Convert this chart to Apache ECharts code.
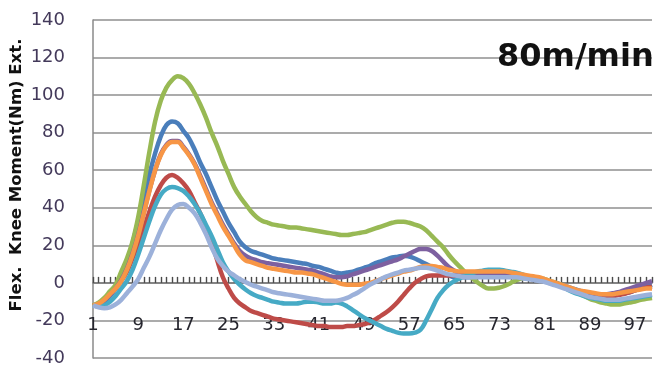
<!DOCTYPE html>
<html>
<head>
<meta charset="utf-8">
<script src="https://cdn.jsdelivr.net/npm/echarts@6/dist/echarts.min.js"></script>
<style>
  html, body { margin: 0; padding: 0; background: #ffffff; }
  #chart { width: 669px; height: 367px; }
</style>
</head>
<body>
<div id="chart"></div>
<script>
// Gait-cycle sample index (1..100)
const categories = Array.from({ length: 100 }, (_, k) => String(k + 1));

// Knee flexion/extension moment (Nm), one curve per subject
const blue = [-12,-12,-10,-7,-3,3,11,21,33,46, 58,69,78,84,86,85,81,77,71,64,
  58,51,44,38,32,27,22,19,17,16, 15,14,13,12.5,12,11.5,11,10.5,10,9,
  8.5,7.5,6.5,5.5,5,5.5,6,7,8,9, 10.5,11.5,12.5,13.5,14,14.5,14,13,11.5,10,
  8.5,7,5,4,3,3,3,3,3.5,4, 4.5,5,5,5,4.5,4,3.5,3,2.5,2,
  1.5,0.5,0,-1,-2,-3,-4,-5,-5.5,-6, -6.5,-6.5,-6.5,-6,-5.5,-5,-4,-3,-2,-1];

const red = [-12,-11,-9,-6,-3,1,6,13,21,29, 38,46,52,56,57.5,56,53,49,43,37,
  30,22,12,3,-3,-8,-11,-13,-15,-16, -17,-18,-19,-19.5,-20,-20.5,-21,-21.5,-22,-22.5,
  -23,-23,-23.5,-23.5,-23.5,-23,-23,-22.5,-22,-21, -19.5,-17.5,-15.5,-13,-10,-6.5,-3,0,2,3.5,
  4,4,4,4,4,4,4,4,4,4, 4,4.5,4.5,4.5,4,4,3.5,3,2.5,2,
  1,0,-1,-2,-3,-4,-5,-5.5,-6,-6.5, -7,-7,-7,-6.5,-6,-5,-4,-3,-2.5,-2];

const green = [-12,-10.5,-8,-4.5,-1,6,13,22,35,52, 70,86,97,104,108,110,109,106,101,95,
  88,80,73,65,58,51,46,42,38,35, 33,32,31,30.5,30,29.5,29.5,29,28.5,28,
  27.5,27,26.5,26,25.5,25.5,26,26.5,27,28, 29,30,31,32,32.5,32.5,32,31,30,28,
  25,22,19,15,11.5,8.5,5.5,3,0.5,-1.5, -3,-3,-2.5,-1.5,0,1.5,2.5,3,3,2.5,
  2,1,0,-1,-2.5,-4,-5.5,-7,-8.5,-9.5, -10.5,-11,-11.5,-11.5,-11,-10.5,-10,-9,-8.5,-8];

const purple = [-12,-11.5,-9.5,-6.5,-3,1.5,7.5,15.5,25.5,37.5, 49.5,60,68.5,73.5,75.5,75.5,72.5,68.5,63.5,57,
  50,43,37,31,26,21,17,14.5,13,12, 11,10.5,10,9.5,9,8.5,8,7.5,7,6.5,
  5.5,4.5,3.5,3,3,3.5,4.5,5.5,6.5,7.5, 8.5,9.5,10.5,11.5,12.5,14,15.5,17,18,18,
  17,14.5,11.5,8.5,6.5,5,4.5,4,4,4, 4,4.5,4.5,4.5,4,4,3.5,3,2.5,2,
  1.5,0.5,-0.5,-1.5,-2.5,-3.5,-4.5,-5,-5.5,-6, -6,-6,-5.5,-5,-4,-3,-2,-1,0,1];

const teal = [-12,-12.5,-12,-10,-7,-3,1,7,15,24, 33,41,47,50,51,50.5,49,46,42,37,
  31,25,18,11,6,2,-1,-3.5,-5.5,-7, -8,-9,-10,-10.5,-11,-11,-11,-10.5,-10,-10,
  -10.5,-11,-11,-10.5,-11,-12.5,-14.5,-16.5,-18.5,-20, -21.5,-23,-24.5,-25.5,-26.5,-27,-27,-26.5,-25,-20,
  -14,-8,-4,-1,1,2.5,4,5,6,6.5, 7,7,7,6.5,6,5.5,4.5,3.5,3,2,
  1,0,-1,-2,-3.5,-5,-6,-7,-8,-8.5, -9,-9.5,-9.5,-9.5,-9,-8.5,-8,-7.5,-7,-6.5];

const orange = [-12,-11,-9,-6,-3,1,7,15,25,37, 49,60,68,73,75,75,72,68,63,56,
  49,42,36,30,25,20,15,12,11,10, 9,8,7.5,7,6.5,6,5.5,5.5,5,4.5,
  3.5,2.5,1.5,0.5,-0.5,-1,-1,-1,-0.5,0, 1,2,3,4,5,6,6.5,7.5,8.5,9,
  9,8.5,8,7,6.5,6,6,6,6,6, 6,6,6,6,5.5,5,4.5,4,3.5,3,
  2,1,0,-1,-2,-3,-4,-4.5,-5,-5.5, -6,-6,-6,-5.5,-5,-4.5,-4,-3.5,-3,-3];

const lightBlue = [-12,-13,-13.5,-13,-11.5,-9,-5.5,-2,2,8, 14,21,28,34,39,41.5,42,40,37,32,
  26,19,13,9,6,4,2,0.5,-1,-2, -3,-4,-5,-5.5,-6,-6.5,-7,-7.5,-8,-8.5,
  -9,-9.5,-9.5,-9.5,-9,-8,-6.5,-5,-3,-1, 0.5,2,3.5,4.5,5.5,6.5,7,7.5,8,8,
  7.5,6.5,5.5,4.5,4,3.5,3,3,3,3, 3,3,3,3,3,3,2.5,2,1.5,1,
  0.5,-0.5,-1.5,-2.5,-3.5,-4.5,-5.5,-6.5,-7.5,-8, -8.5,-9,-9,-9,-8.5,-8,-7.5,-7,-6.5,-6];

// Value axis range and tick step
const yMin = -40, yMax = 140, yStep = 20;

const curves = [
  { data: blue, color: '#4A7EBB' },
  { data: red, color: '#BE4B48' },
  { data: green, color: '#98B954' },
  { data: purple, color: '#7D60A0' },
  { data: teal, color: '#46AAC5' },
  { data: orange, color: '#F79646' },
  { data: lightBlue, color: '#9CB1DA' }
];

const chart = echarts.init(document.getElementById('chart'), null, { renderer: 'canvas' });

chart.setOption({
  animation: false,
  backgroundColor: '#ffffff',
  grid: { left: 93, right: 17, top: 20, bottom: 9, containLabel: false, outerBoundsMode: 'none' },
  xAxis: [
    {
      // crossing axis at zero: line plus a tick on every sample, above the curves
      type: 'category',
      data: categories,
      boundaryGap: false,
      z: 3,
      axisLine: { onZero: true, lineStyle: { color: '#7a7a7a', width: 1.5 } },
      axisTick: { show: true, interval: 0, inside: true, length: 6, lineStyle: { color: '#4a4a4a', width: 1.4 } },
      axisLabel: { show: false, interval: 0 },
      splitLine: { show: false }
    },
    {
      // sample labels, set low in the plot
      type: 'category',
      data: categories,
      boundaryGap: false,
      position: 'bottom',
      offset: -44,
      axisLine: { show: false, onZero: false },
      axisTick: { show: false },
      axisLabel: {
        show: true,
        interval: 7,
        margin: 2,
        hideOverlap: false,
        fontFamily: 'DejaVu Sans',
        fontSize: 18,
        color: '#26262e'
      },
      splitLine: { show: false }
    }
  ],
  yAxis: {
    type: 'value',
    min: yMin,
    max: yMax,
    interval: yStep,
    axisLine: { show: true, lineStyle: { color: '#8a8a8a', width: 1.5 } },
    axisTick: { show: false },
    axisLabel: {
      margin: 28,
      fontFamily: 'DejaVu Sans',
      fontSize: 18,
      color: '#43395a'
    },
    splitLine: { show: true, lineStyle: { color: '#8f8f8f', width: 1.5 } }
  },
  graphic: [
    {
      type: 'text',
      x: 17,
      y: 175,
      rotation: Math.PI / 2,
      style: {
        text: 'Flex.  Knee Moment(Nm) Ext.',
        fontFamily: 'DejaVu Sans',
        fontWeight: 'bold',
        fontSize: 16.5,
        fill: '#111111',
        align: 'center',
        verticalAlign: 'middle'
      }
    },
    {
      type: 'text',
      x: 497,
      y: 58,
      z: 100,
      style: {
        text: '80m/min',
        fontFamily: 'DejaVu Sans',
        fontWeight: 'bold',
        fontSize: 32,
        fill: '#111111',
        align: 'left',
        verticalAlign: 'middle'
      }
    }
  ],
  series: curves.map(c => ({
    type: 'line',
    xAxisIndex: 0,
    data: c.data,
    smooth: 0.4,
    showSymbol: false,
    symbol: 'none',
    lineStyle: { color: c.color, width: 4.5 },
    itemStyle: { color: c.color }
  }))
});
</script>
</body>
</html>
